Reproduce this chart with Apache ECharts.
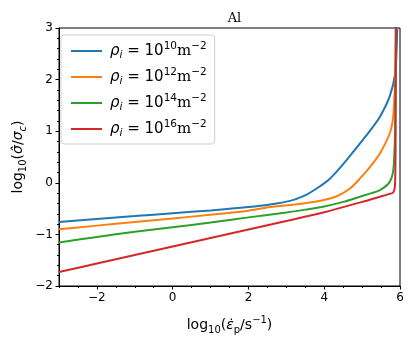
<!DOCTYPE html>
<html>
<head>
<meta charset="utf-8">
<script src="https://cdn.jsdelivr.net/npm/echarts@6/dist/echarts.min.js"></script>
<style>
  html, body { margin: 0; padding: 0; background: #fff; }
  #chart { width: 415px; height: 344px; }
</style>
</head>
<body>
<div id="chart"></div>
<script>
// data: log10 strain rate vs log10 normalised stress
const exponents = ['10', '12', '14', '16'];
const colors = ['#1f77b4', '#ff7f0e', '#2ca02c', '#d62728'];

const rho10X = [-3, -2, -1, 0, 1, 2, 2.57, 3.1, 3.45, 3.8, 4.15, 4.5, 4.94, 5.2, 5.47, 5.73, 5.87, 5.91, 5.93];
const rho10Y = [-0.76, -0.70, -0.645, -0.59, -0.535, -0.47, -0.42, -0.35, -0.26, -0.11, 0.08, 0.36, 0.76, 1.0, 1.28, 1.68, 2.1, 2.57, 3.05];

const rho12X = [-3, -2, -1, 0, 1, 2, 2.57, 3.45, 3.97, 4.33, 4.68, 4.94, 5.2, 5.47, 5.73, 5.82, 5.87, 5.9];
const rho12Y = [-0.90, -0.83, -0.76, -0.69, -0.62, -0.54, -0.47, -0.40, -0.34, -0.26, -0.11, 0.08, 0.30, 0.57, 0.96, 1.28, 1.99, 3.05];

const rho14X = [-3, -2, -1, 0, 1, 2, 3, 3.5, 4, 4.5, 4.94, 5.25, 5.47, 5.65, 5.73, 5.8, 5.84, 5.87, 5.89];
const rho14Y = [-1.155, -1.05, -0.95, -0.86, -0.77, -0.67, -0.575, -0.52, -0.46, -0.37, -0.27, -0.20, -0.14, -0.05, 0.02, 0.15, 0.38, 1.02, 3.05];

const rho16X = [-3, -2, -1, 0, 1, 2, 3, 4, 5, 5.47, 5.7, 5.82, 5.86, 5.875, 5.885, 5.89];
const rho16Y = [-1.73, -1.565, -1.40, -1.235, -1.07, -0.905, -0.74, -0.57, -0.37, -0.27, -0.22, -0.19, -0.10, 0.10, 1.0, 3.05];

const xMajor = [-2, 0, 2, 4, 6];

const allX = [rho10X, rho12X, rho14X, rho16X];
const allY = [rho10Y, rho12Y, rho14Y, rho16Y];

const minus = v => String(v).replace('-', '\u2212');
const sans = 'DejaVu Sans';

const chart = echarts.init(document.getElementById('chart'));

const series = exponents.map((e, i) => ({
  name: e,
  type: 'line',
  xAxisIndex: 0,
  data: allX[i].map((x, j) => [x, allY[i][j]]),
  showSymbol: false,
  symbol: 'none',
  smooth: 0.3,
  lineStyle: { color: colors[i], width: 2 },
  itemStyle: { color: colors[i] },
  clip: true
}));

chart.setOption({
  animation: false,
  title: {
    text: 'Al',
    left: 229.5,
    textAlign: 'center',
    top: 7,
    textStyle: { fontFamily: 'DejaVu Serif', fontSize: 13, fontWeight: 'normal', color: '#000' }
  },
  grid: {
    left: 59, right: 15, top: 28, bottom: 58,
    show: true, borderColor: '#000', borderWidth: 1, backgroundColor: 'transparent'
  },
  legend: {
    orient: 'vertical',
    left: 61, top: 35,
    padding: [6, 8, 5, 10],
    itemGap: 6,
    itemWidth: 31, itemHeight: 2,
    icon: 'rect',
    backgroundColor: '#fff',
    borderColor: '#d0d0d0', borderWidth: 1, borderRadius: 3,
    data: exponents,
    formatter: name => `{it|ρ}{sub|i}{n| = 10}{sup|${name}}{rm|m}{sup|\u22122}`,
    textStyle: {
      padding: [0, 0, 0, 3],
      rich: {
        n: { fontFamily: sans, fontSize: 15, lineHeight: 20, color: '#000' },
        it: { fontFamily: sans, fontStyle: 'italic', fontSize: 15, lineHeight: 20, color: '#000' },
        rm: { fontFamily: 'DejaVu Serif', fontSize: 15, lineHeight: 20, color: '#000' },
        sub: { fontFamily: sans, fontStyle: 'italic', fontSize: 10.5, lineHeight: 14, verticalAlign: 'bottom', color: '#000' },
        sup: { fontFamily: sans, fontSize: 10.5, lineHeight: 11, verticalAlign: 'top', color: '#000' }
      }
    }
  },
  xAxis: [
    {
      type: 'value', min: -3, max: 6, position: 'bottom',
      axisLine: { onZero: false, lineStyle: { color: '#000', width: 1 } },
      axisTick: { customValues: xMajor, length: 3.5, lineStyle: { color: '#000' } },
      axisLabel: { customValues: xMajor, formatter: minus, color: '#000', fontFamily: sans, fontSize: 12, margin: 6 },
      splitLine: { show: false }
    },
    {
      type: 'value', min: -3, max: 6, interval: 0.5, position: 'bottom',
      axisLine: { show: false, onZero: false },
      axisTick: { length: 2, lineStyle: { color: '#000' } },
      axisLabel: { show: false },
      splitLine: { show: false }
    }
  ],
  yAxis: {
    type: 'value', min: -2, max: 3, interval: 1,
    axisLine: { show: true, onZero: false, lineStyle: { color: '#000', width: 1 } },
    axisTick: { show: true, length: 3.5, lineStyle: { color: '#000' } },
    minorTick: { show: true, splitNumber: 5, length: 2, lineStyle: { color: '#000' } },
    axisLabel: { formatter: minus, color: '#000', fontFamily: sans, fontSize: 12, margin: 6 },
    splitLine: { show: false }
  },
  graphic: [
    {
      type: 'text',
      x: 18, y: 157,
      rotation: Math.PI / 2,
      style: {
        text: '{n|log}{s|10}{n|(}{i|σ\u0302}{n|/}{i|σ}{si|c}{n|)}',
        align: 'center', verticalAlign: 'middle',
        rich: {
          n: { fontFamily: sans, fontSize: 14, lineHeight: 20, fill: '#000' },
          i: { fontFamily: sans, fontStyle: 'italic', fontSize: 14, lineHeight: 20, fill: '#000' },
          s: { fontFamily: sans, fontSize: 10, lineHeight: 12, verticalAlign: 'bottom', fill: '#000' },
          si: { fontFamily: sans, fontStyle: 'italic', fontSize: 10, lineHeight: 12, verticalAlign: 'bottom', fill: '#000' }
        }
      }
    },
    {
      type: 'text',
      x: 229.5, y: 325,
      style: {
        text: '{n|log}{s|10}{n|(}{i|ε\u0307}{s|p}{n|/s}{p|\u22121}{n|)}',
        align: 'center', verticalAlign: 'middle',
        rich: {
          n: { fontFamily: sans, fontSize: 14, lineHeight: 20, fill: '#000' },
          i: { fontFamily: sans, fontStyle: 'italic', fontSize: 14, lineHeight: 20, fill: '#000' },
          s: { fontFamily: sans, fontSize: 10, lineHeight: 12, verticalAlign: 'bottom', fill: '#000' },
          p: { fontFamily: sans, fontSize: 10, lineHeight: 11, verticalAlign: 'top', fill: '#000' }
        }
      }
    }
  ],
  series: series
});
</script>
</body>
</html>
